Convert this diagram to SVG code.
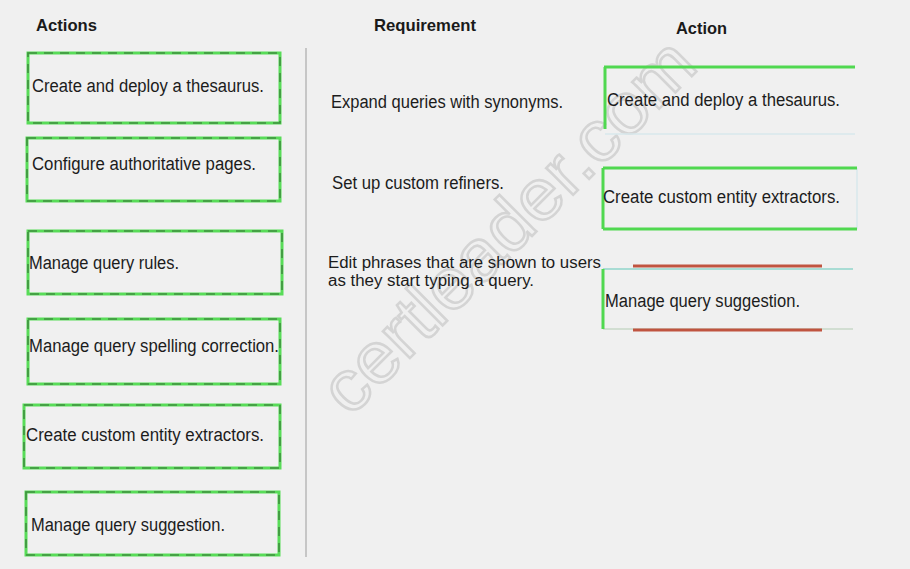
<svg xmlns="http://www.w3.org/2000/svg" width="910" height="569" viewBox="0 0 910 569">
<style>
.bg{fill:#f0f0f0}
.hd{font-family:"Liberation Sans",Arial,sans-serif;font-weight:bold;font-size:17px;fill:#1a1a1a}
.t{font-family:"Liberation Sans",Arial,sans-serif;font-size:18px;fill:#1c1c1c}
.t2{font-family:"Liberation Sans",Arial,sans-serif;font-size:16px;fill:#1c1c1c}
.box{fill:none;stroke:#58dc58;stroke-width:3}
.dash{fill:none;stroke:#3f8f3f;stroke-width:1.6;stroke-dasharray:9 7}
.g{stroke:#50d850;stroke-width:3;fill:none}
.faint{stroke:#d8e8ec;stroke-width:1.5;fill:none}
.red{stroke:#c05440;stroke-width:3;fill:none}
.wm{font-family:"Liberation Sans",Arial,sans-serif;font-size:72px;fill:none;stroke:#d4d4d4;stroke-width:2.5}
</style>
<rect class="bg" width="910" height="569"/>
<text class="wm" transform="translate(350,418) rotate(-45)" textLength="495" lengthAdjust="spacingAndGlyphs">certleader.com</text>
<text class="hd" x="36" y="31" textLength="61" lengthAdjust="spacingAndGlyphs">Actions</text>
<text class="hd" x="374" y="31" textLength="102" lengthAdjust="spacingAndGlyphs">Requirement</text>
<text class="hd" x="676" y="34" textLength="51" lengthAdjust="spacingAndGlyphs">Action</text>
<g id="connectors">
<line x1="306" y1="48" x2="306" y2="557" stroke="#b8b8b8" stroke-width="1.5"/>
</g>
<g id="a1"><rect class="box" x="28" y="53" width="252" height="70"/><rect class="dash" x="28" y="53" width="252" height="70"/><text class="t" x="32" y="92" textLength="232" lengthAdjust="spacingAndGlyphs">Create and deploy a thesaurus.</text></g>
<g id="a2"><rect class="box" x="27" y="138" width="253" height="63"/><rect class="dash" x="27" y="138" width="253" height="63"/><text class="t" x="32" y="170" textLength="224" lengthAdjust="spacingAndGlyphs">Configure authoritative pages.</text></g>
<g id="a3"><rect class="box" x="28" y="231" width="254" height="63"/><rect class="dash" x="28" y="231" width="254" height="63"/><text class="t" x="29" y="269" textLength="150" lengthAdjust="spacingAndGlyphs">Manage query rules.</text></g>
<g id="a4"><rect class="box" x="28" y="319" width="252" height="65"/><rect class="dash" x="28" y="319" width="252" height="65"/><text class="t" x="29" y="352" textLength="250" lengthAdjust="spacingAndGlyphs">Manage query spelling correction.</text></g>
<g id="a5"><rect class="box" x="24" y="405" width="256" height="63"/><rect class="dash" x="24" y="405" width="256" height="63"/><text class="t" x="26" y="441" textLength="238" lengthAdjust="spacingAndGlyphs">Create custom entity extractors.</text></g>
<g id="a6"><rect class="box" x="26" y="492" width="253" height="63"/><rect class="dash" x="26" y="492" width="253" height="63"/><text class="t" x="31" y="531" textLength="194" lengthAdjust="spacingAndGlyphs">Manage query suggestion.</text></g>
<g id="r1"><text class="t" x="331" y="108" textLength="232" lengthAdjust="spacingAndGlyphs">Expand queries with synonyms.</text></g>
<g id="r2"><text class="t" x="332" y="189" textLength="172" lengthAdjust="spacingAndGlyphs">Set up custom refiners.</text></g>
<g id="r3"><text class="t2" x="328" y="268" textLength="273" lengthAdjust="spacingAndGlyphs">Edit phrases that are shown to users</text><text class="t2" x="328" y="286" textLength="206" lengthAdjust="spacingAndGlyphs">as they start typing a query.</text></g>
<g id="s1"><line class="faint" x1="605" y1="134" x2="855" y2="134"/><line class="g" x1="604" y1="67" x2="855" y2="67" stroke-width="2"/><line class="g" x1="605" y1="67" x2="605" y2="129"/><text class="t" x="607" y="106" textLength="233" lengthAdjust="spacingAndGlyphs">Create and deploy a thesaurus.</text></g>
<g id="s2"><line class="faint" x1="857" y1="168" x2="857" y2="229"/><line class="g" x1="603" y1="168" x2="857" y2="168"/><line class="g" x1="603" y1="229" x2="857" y2="229"/><line class="g" x1="603" y1="168" x2="603" y2="229"/><text class="t" x="603" y="203" textLength="237" lengthAdjust="spacingAndGlyphs">Create custom entity extractors.</text></g>
<g id="s3"><line class="red" x1="633" y1="266" x2="822" y2="266"/><line stroke="#a8dcd4" stroke-width="2" x1="603" y1="269" x2="853" y2="269"/><line stroke="#c8d8c8" stroke-width="1.5" x1="603" y1="329" x2="853" y2="329"/><line class="red" x1="633" y1="330" x2="822" y2="330"/><line class="g" x1="603" y1="269" x2="603" y2="329" stroke-width="2.5"/><text class="t" x="605" y="307" textLength="195" lengthAdjust="spacingAndGlyphs">Manage query suggestion.</text></g>
</svg>
